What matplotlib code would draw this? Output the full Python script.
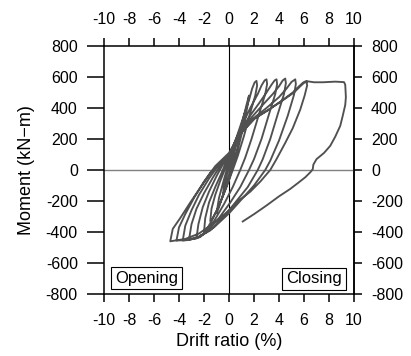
import numpy as np
import matplotlib
matplotlib.use("Agg")
from matplotlib import pyplot as plt

plt.rcParams['font.family'] = ['Liberation Sans', 'DejaVu Sans']
plt.rcParams['axes.unicode_minus'] = False

# Rama por rama del ensayo ciclico (deriva %, momento kN-m)
drift_branches = [
    [0, 0.25, 0.5],
    [0.35, 0.0, -0.3, -0.5],
    [-0.4, -0.1, 0.2, 0.6, 1.0],
    [0.85, 0.5, 0.1, -0.4, -0.8, -1.0],
    [-0.8, -0.4, 0.0, 0.3, 0.7, 1.1, 1.4, 1.6],
    [1.45, 1.1, 0.7, 0.3, 0, -0.4, -0.9, -1.3, -1.5],
    [-1.4, -1.1, -0.7, -0.3, 0.1, 0.6, 1.1, 1.6, 1.85, 2.05, 2.2],
    [2.25, 2.1, 1.7, 1.2, 0.7, 0.3, -0.2, -0.8, -1.4, -1.8, -2.0],
    [-1.9, -1.6, -1.1, -0.6, -0.1, 0.4, 1.0, 1.7, 2.3, 2.6, 2.85, 3.0],
    [3.05, 2.9, 2.4, 1.8, 1.3, 0.9, 0.3, -0.4, -1.2, -1.9, -2.3, -2.6],
    [-2.45, -2.1, -1.6, -1.0, -0.4, 0.1, 0.7, 1.5, 2.4, 3.0, 3.4, 3.65, 3.8],
    [3.85, 3.7, 3.2, 2.6, 2.0, 1.6, 0.9, 0.1, -0.8, -1.8, -2.6, -3.2],
    [-3.0, -2.6, -2.0, -1.3, -0.6, 0.1, 0.8, 1.7, 2.7, 3.5, 4.0, 4.3, 4.5],
    [4.55, 4.4, 3.9, 3.3, 2.7, 2.3, 1.5, 0.6, -0.4, -1.5, -2.6, -3.3, -3.7],
    [-3.5, -3.0, -2.4, -1.6, -0.8, 0.1, 0.9, 1.9, 3.0, 4.0, 4.6, 5.0, 5.3],
    [5.35, 5.2, 4.7, 4.0, 3.3, 2.9, 2.0, 1.0, 0.0, -1.2, -2.4, -3.4, -4.2],
    [-4.0, -3.5, -2.8, -2.0, -1.1, 0.0, 0.9, 2.0, 3.1, 4.2, 5.1, 5.6, 5.95, 6.2],
    [6.25, 6.05, 5.7, 5.1, 4.5, 3.8, 3.3, 2.5, 1.7, 0.9, 0.3, -1.0, -2.4, -3.5, -4.7],
    [-4.5, -3.9, -3.1, -2.3, -1.5, -0.7, 0.1, 1.0, 2.1, 3.2, 4.3, 5.2, 5.7, 6.0, 6.3,
     6.8, 7.5, 8.5, 9.2, 9.3, 9.35, 9.3, 9.1, 8.9, 8.5, 8.1, 7.6, 7.0, 6.75, 6.7,
     6.5, 6.1, 5.5, 4.9, 4.0, 3.0, 2.0, 1.1],
]
moment_branches = [
    [0, 80, 160],
    [80, -30, -110, -170],
    [-100, -10, 70, 170, 290],
    [200, 90, -30, -140, -240, -280],
    [-180, -60, 50, 110, 200, 320, 420, 480],
    [400, 260, 130, 20, -60, -150, -250, -310, -330],
    [-250, -160, -70, 10, 100, 210, 330, 450, 525, 565, 575],
    [545, 480, 370, 220, 90, 0, -110, -230, -330, -385, -400],
    [-310, -210, -110, -20, 80, 170, 280, 400, 490, 545, 578, 585],
    [555, 490, 360, 200, 80, 0, -110, -220, -330, -405, -432, -440],
    [-350, -240, -140, -40, 50, 110, 210, 330, 430, 500, 550, 578, 585],
    [555, 490, 360, 200, 70, 0, -110, -210, -310, -400, -440, -450],
    [-350, -250, -150, -50, 40, 110, 220, 330, 420, 490, 540, 578, 590],
    [560, 490, 360, 200, 70, 0, -110, -200, -300, -390, -440, -452, -455],
    [-360, -260, -160, -55, 35, 110, 230, 330, 400, 470, 525, 568, 585],
    [555, 485, 350, 190, 60, 0, -100, -190, -280, -370, -430, -452, -455],
    [-370, -285, -180, -75, 25, 110, 235, 330, 385, 445, 500, 540, 565, 575],
    [545, 480, 390, 270, 175, 70, 0, -75, -140, -190, -240, -330, -410, -445, -460],
    [-380, -310, -210, -115, -20, 45, 110, 240, 335, 390, 450, 500, 540, 562, 572,
     566, 566, 570, 567, 550, 470, 420, 350, 285, 215, 156, 110, 70, 35, 5,
     -15, -47, -85, -122, -170, -229, -285, -332],
]

xticks = [-10, -8, -6, -4, -2, 0, 2, 4, 6, 8, 10]
yticks = [-800, -600, -400, -200, 0, 200, 400, 600, 800]

drift = np.concatenate([np.array(b, dtype=float) for b in drift_branches])
moment = np.concatenate([np.array(b, dtype=float) for b in moment_branches])

fig = plt.figure(figsize=(4.11, 3.56), dpi=100)
ax = fig.add_axes([104 / 411, 1 - 294 / 356, 250 / 411, 248 / 356])

ax.axhline(0, color='#808080', lw=1.0, zorder=1)
ax.axvline(0, color='black', lw=0.8, zorder=1)
ax.plot(drift, moment, color='#505050', lw=1.35, zorder=2)

ax.set_xlim(-10, 10)
ax.set_ylim(-800, 800)
ax.set_xticks(xticks)
ax.set_yticks(yticks)
for s in ax.spines.values():
    s.set_linewidth(1.1)

# abajo/arriba y a la izquierda desde el eje principal
ax.tick_params(axis='x', direction='out', width=1.1, length=5.8, labelsize=11.5,
               top=True, labeltop=True, pad=8)
ax.tick_params(axis='y', direction='out', width=1.1, length=12.6, labelsize=11.5,
               right=False, pad=6.3)

# eje derecho con marcas mas cortas
axr = ax.secondary_yaxis('right')
axr.set_yticks(yticks)
axr.tick_params(direction='out', width=1.1, length=5.8, labelsize=11.5, pad=6.5)
axr.spines['right'].set_linewidth(1.1)

ax.set_xlabel('Drift ratio (%)', fontsize=13)
ax.xaxis.set_label_coords(0.5, -0.157)
ax.set_ylabel('Moment (kN\u2212m)', fontsize=13)
ax.yaxis.set_label_coords(-0.276, 0.5)

box = dict(boxstyle='square,pad=0.22', fc='white', ec='black', lw=0.8)
ax.text(-6.6, -697, 'Opening', fontsize=12, ha='center', va='center', bbox=box)
ax.text(6.8, -703, 'Closing', fontsize=12, ha='center', va='center', bbox=box)

fig.savefig('out.png', dpi=100)
